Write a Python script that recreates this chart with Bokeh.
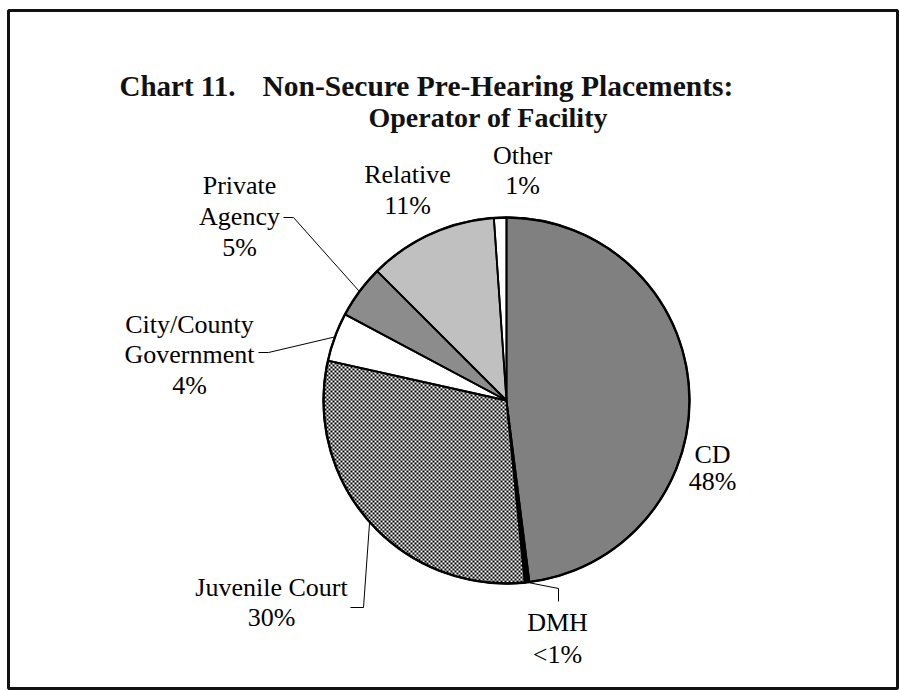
import math
import numpy as np
from bokeh.plotting import figure
from bokeh.models import Range1d
from bokeh.core.properties import value
from bokeh.embed import file_html
from bokeh.resources import INLINE

# ---------------- data ----------------
categories = ["CD", "DMH", "Juvenile Court", "City/County Government",
              "Private Agency", "Relative", "Other"]
values = [48.0, 0.4, 30.1, 4.3, 4.7, 11.4, 1.1]
pct_labels = ["48%", "<1%", "30%", "4%", "5%", "11%", "1%"]
name_lines = [["CD"], ["DMH"], ["Juvenile Court"], ["City/County", "Government"],
              ["Private", "Agency"], ["Relative"], ["Other"]]
fills = ["#808080", "#000000", "checker", "#ffffff", "#8c8c8c", "#c0c0c0", "#ffffff"]

title_1a = "Chart 11."
title_1b = "Non-Secure Pre-Hearing Placements:"
title_2 = "Operator of Facility"

# ---------------- layout (page pixel coordinates) ----------------
PW, PH = 899, 690
ML, MT, MR, MB = 8, 10, 2, 2
FW, FH = PW - ML - MR, PH - MT - MB
def fx(px): return px - ML
def fy(py): return (PH - MB) - py

CX, CY, R = 506, 400, 183
label_pos = [
    (712, [454, 481]),
    (557, [622, 654]),
    (271, [587, 617]),
    (189, [324, 354, 385]),
    (239, [185, 216, 247]),
    (407, [174, 205]),
    (522, [155, 185]),
]
leaders = [None, [(558, 588), (558, 601)], [(363, 607), (350, 607)],
           [(268, 352), (258, 352)], [(293, 217), (283, 217)], None, None]

# ---------------- figure ----------------
p = figure(width=PW, height=PH, output_backend="svg", toolbar_location=None,
           x_range=Range1d(0, FW), y_range=Range1d(0, FH),
           x_axis_type=None, y_axis_type=None,
           min_border_left=ML, min_border_right=MR,
           min_border_top=MT, min_border_bottom=MB)
p.grid.visible = False
p.outline_line_color = "#111111"
p.outline_line_width = 3
p.background_fill_color = "white"
p.border_fill_color = "white"

total = sum(values)
bounds = []
cum = 0.0
for v in values:
    bounds.append((cum / total, (cum + v) / total))
    cum += v

cx, cy = fx(CX), fy(CY)
FONT = value("Liberation Serif")

# slice fills
for i, (s, e) in enumerate(bounds):
    a0 = math.pi / 2 - 2 * math.pi * s
    a1 = math.pi / 2 - 2 * math.pi * e
    base = "#808080" if fills[i] == "checker" else fills[i]
    p.wedge(x=cx, y=cy, radius=R, start_angle=a0, end_angle=a1,
            direction="clock", fill_color=base, line_color=None)

# checker texture for the Juvenile Court slice (1 data unit = 1 px)
ci = fills.index("checker")
s, e = bounds[ci]
N = 2 * R + 2
jj, ii = np.mgrid[0:N, 0:N]
dx = ii + 0.5 - (R + 1)
dy = jj + 0.5 - (R + 1)
theta = np.mod(np.arctan2(dx, dy), 2 * np.pi) / (2 * np.pi)
inside = (dx ** 2 + dy ** 2 <= R ** 2) & (theta >= s) & (theta <= e)
dark = ((ii // 2) + (jj // 2)) % 2 == 0
img = np.zeros((N, N), dtype=np.uint32)
view = img.view(dtype=np.uint8).reshape((N, N, 4))
view[..., 0] = np.where(dark, 0, 255)
view[..., 1] = np.where(dark, 0, 255)
view[..., 2] = np.where(dark, 0, 255)
view[..., 3] = np.where(inside, 255, 0)
p.image_rgba(image=[img], x=cx - R - 1, y=cy - R - 1, dw=N, dh=N)

# slice outlines
for i, (s, e) in enumerate(bounds):
    a0 = math.pi / 2 - 2 * math.pi * s
    a1 = math.pi / 2 - 2 * math.pi * e
    p.wedge(x=cx, y=cy, radius=R, start_angle=a0, end_angle=a1,
            direction="clock", fill_color=None, line_color="black",
            line_width=1.8)
# heavier outer rim of the pie
p.circle(x=cx, y=cy, radius=R, fill_color=None, line_color="black",
         line_width=2.4)

# leaders and labels
for i, (s, e) in enumerate(bounds):
    if leaders[i] is not None:
        mid = math.pi / 2 - 2 * math.pi * (s + e) / 2
        ex = cx + R * math.cos(mid)
        ey = cy + R * math.sin(mid)
        xs = [ex] + [fx(q[0]) for q in leaders[i]]
        ys = [ey] + [fy(q[1]) for q in leaders[i]]
        p.line(xs, ys, line_color="black", line_width=1)
    lx, bases = label_pos[i]
    lines = name_lines[i] + [pct_labels[i]]
    for t, b in zip(lines, bases):
        p.text(x=[fx(lx)], y=[fy(b)], text=[t], text_align="center",
               text_baseline="alphabetic", text_font=FONT,
               text_font_size="26px", text_color="black")

# title
p.text(x=[fx(119)], y=[fy(85)], text=[title_1a], text_align="left",
       text_baseline="alphabetic", text_font=FONT, text_font_style="bold",
       text_font_size="29px", text_color="#111111")
p.text(x=[fx(262)], y=[fy(85)], text=[title_1b], text_align="left",
       text_baseline="alphabetic", text_font=FONT, text_font_style="bold",
       text_font_size="29.5px", text_color="#111111")
p.text(x=[fx(368)], y=[fy(117)], text=[title_2], text_align="left",
       text_baseline="alphabetic", text_font=FONT, text_font_style="bold",
       text_font_size="28px", text_color="#111111")

open("out.html", "w").write(file_html(p, INLINE))
